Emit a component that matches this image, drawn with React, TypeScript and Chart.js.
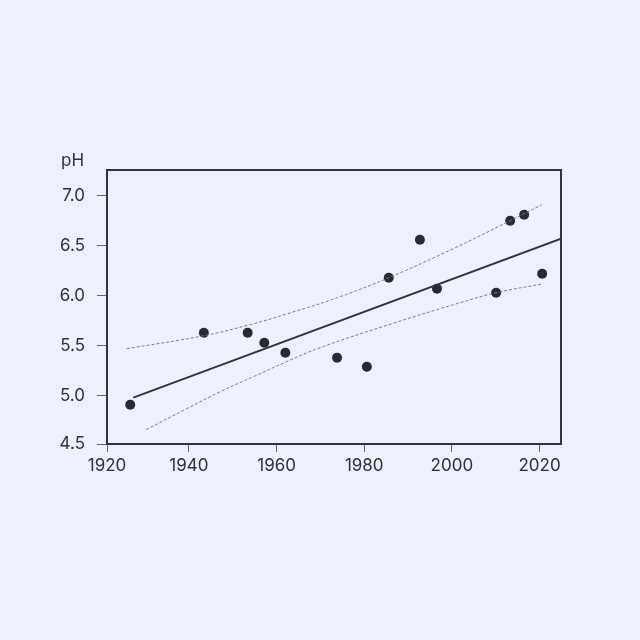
import React, { useEffect, useRef } from "react";
import { Chart, registerables } from "chart.js";

Chart.register(...registerables);

const years = [1926.6, 1943.4, 1953.4, 1957.2, 1962.0, 1973.8, 1980.6, 1985.6, 1992.7, 1996.6, 2010.1, 2013.3, 2016.5, 2020.6];
const phValues = [4.91, 5.63, 5.63, 5.53, 5.43, 5.38, 5.29, 6.18, 6.56, 6.07, 6.03, 6.75, 6.81, 6.22];

const fitYears = [1927.3, 2024.9];
const fitValues = [4.98, 6.57];

const upperYears = [1925.8, 1943.4, 1953.9, 1962.5, 1974.5, 1985.6, 2000.3, 2013.3, 2020.5];
const upperValues = [5.47, 5.60, 5.71, 5.82, 5.99, 6.18, 6.47, 6.75, 6.91];

const lowerYears = [1930.2, 1939.5, 1947.1, 1954.7, 1962.3, 1969.9, 1987.0, 2001.9, 2010.1, 2020.9];
const lowerValues = [4.66, 4.87, 5.04, 5.19, 5.34, 5.48, 5.73, 5.93, 6.03, 6.12];

const xTickValues = [1940, 1960, 1980, 2000, 2020];
const yTickValues = [5.0, 5.5, 6.0, 6.5, 7.0];
const xMin = 1921.3;
const xMax = 2024.9;
const yMin = 4.517;
const yMax = 7.257;

const BG = "#eef0fc";
const INK = "#232b39";
const TEXT = "#2a3140";

const toXY = (xs: number[], ys: number[]) => xs.map((x, i) => ({ x, y: ys[i] }));

export default function App() {
  const ref = useRef<HTMLCanvasElement | null>(null);
  useEffect(() => {
    if (!ref.current) return;
    const framePlugin = {
      id: "frame",
      afterDatasetsDraw(chart: any) {
        const { ctx, chartArea } = chart;
        ctx.save();
        ctx.strokeStyle = "#2c3444";
        ctx.lineWidth = 2;
        ctx.strokeRect(chartArea.left, chartArea.top, chartArea.right - chartArea.left, chartArea.bottom - chartArea.top);
        ctx.fillStyle = TEXT;
        ctx.font = "17px Inter";
        ctx.textAlign = "left";
        ctx.textBaseline = "alphabetic";
        ctx.fillText("pH", 61, 166);
        ctx.restore();
      },
    };
    const bandStyle = {
      type: "line",
      borderColor: "#777c8a",
      borderWidth: 1,
      borderDash: [3, 2],
      pointRadius: 0,
      tension: 0.4,
      fill: false,
    };
    const chart = new Chart(ref.current, {
      type: "scatter",
      data: {
        datasets: [
          { ...bandStyle, data: toXY(upperYears, upperValues) } as any,
          { ...bandStyle, data: toXY(lowerYears, lowerValues) } as any,
          {
            type: "line",
            data: toXY(fitYears, fitValues),
            borderColor: "#2c3444",
            borderWidth: 1.8,
            pointRadius: 0,
            fill: false,
          } as any,
          {
            type: "scatter",
            data: toXY(years, phValues),
            backgroundColor: INK,
            borderColor: INK,
            pointRadius: 5,
            pointBorderWidth: 0,
          } as any,
        ],
      },
      options: {
        animation: false,
        responsive: false,
        maintainAspectRatio: false,
        layout: { padding: { left: 0, right: 79, top: 170, bottom: 156 } },
        plugins: { legend: { display: false }, tooltip: { enabled: false } },
        scales: {
          x: {
            type: "linear",
            min: xMin,
            max: xMax,
            afterFit: (s: any) => { s.height = 40; },
            afterBuildTicks: (s: any) => { s.ticks = [xMin, ...xTickValues].map((v) => ({ value: v })); },
            ticks: {
              color: TEXT,
              font: { family: "Inter", size: 17 },
              padding: 4,
              maxRotation: 0,
              callback: (v: any) => String(Math.round(Number(v) / 20) * 20),
            },
            grid: { drawOnChartArea: false, drawTicks: true, tickLength: 8, color: "#5c6373", lineWidth: 1 },
            border: { display: false },
          },
          y: {
            type: "linear",
            min: yMin,
            max: yMax,
            afterFit: (s: any) => { s.width = 107; },
            afterBuildTicks: (s: any) => { s.ticks = [yMin, ...yTickValues].map((v) => ({ value: v })); },
            ticks: {
              color: TEXT,
              font: { family: "Inter", size: 17 },
              padding: 12,
              callback: (v: any) => (Math.round(Number(v) * 2) / 2).toFixed(1),
            },
            grid: { drawOnChartArea: false, drawTicks: true, tickLength: 10, color: "#5c6373", lineWidth: 1 },
            border: { display: false },
          },
        },
      } as any,
      plugins: [framePlugin],
    });
    return () => chart.destroy();
  }, []);
  return (
    <div style={{ position: "fixed", left: 0, top: 0, width: 640, height: 640, background: BG }}>
      <canvas ref={ref} width={640} height={640} style={{ width: 640, height: 640, display: "block" }} />
    </div>
  );
}
